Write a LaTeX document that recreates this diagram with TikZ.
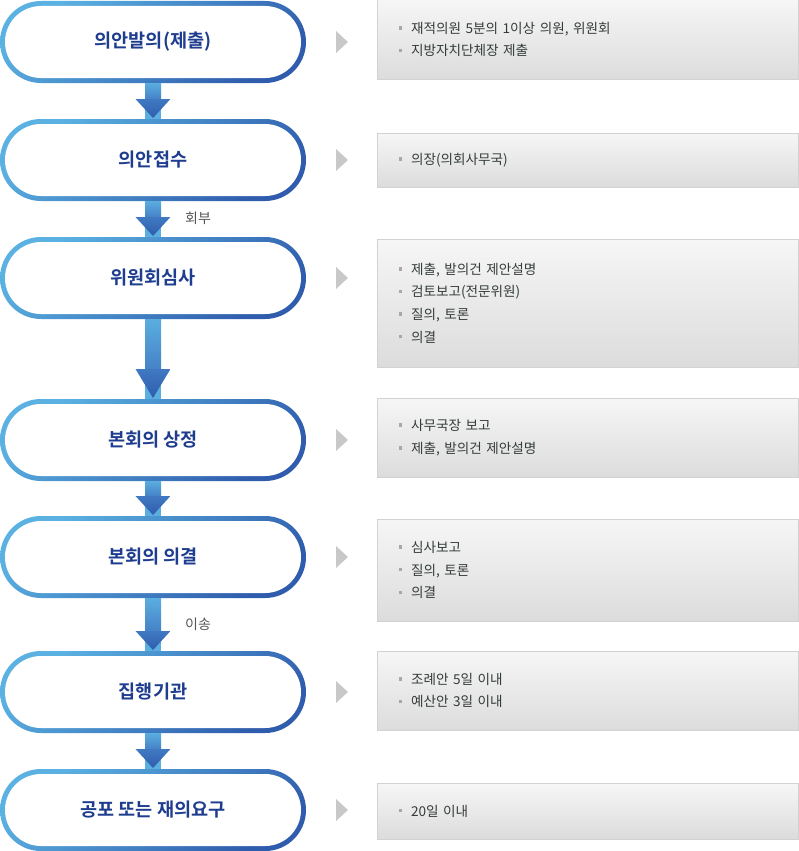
\documentclass[tikz,border=0pt]{standalone}
\usepackage{fontspec}
\setmainfont{Noto Sans CJK KR}[BoldFont={Noto Sans CJK KR Bold}]
\usepackage{xcolor}
\usepackage{tikz}
\usetikzlibrary{calc}
\setlength{\parindent}{0pt}
\definecolor{pilllight}{HTML}{5BB2E2}
\definecolor{pilldark}{HTML}{2F5CAC}
\definecolor{pilltext}{HTML}{1F3D8F}
\definecolor{arrowlight}{HTML}{5AAEE0}
\definecolor{arrowmid}{HTML}{4582C7}
\definecolor{headtop}{HTML}{4079C2}
\definecolor{headbot}{HTML}{2F5DAD}
\definecolor{pointgray}{HTML}{C8C8C8}
\definecolor{boxtop}{HTML}{F6F6F6}
\definecolor{boxbot}{HTML}{DCDCDC}
\definecolor{boxline}{HTML}{D2D2D2}
\definecolor{bulletgray}{HTML}{A8A8A8}
\definecolor{itemtext}{HTML}{343C3A}
\definecolor{labelgray}{HTML}{555555}
\tikzset{
  pill/.style={rectangle, rounded corners=41pt, minimum width=306pt, minimum height=82pt,
    inner sep=0pt, outer sep=0pt, top color=pilllight, bottom color=pilldark, shading angle=40,
    text=pilltext, font=\fontsize{18.6}{21}\selectfont\bfseries,
    path picture={\fill[white, rounded corners=36pt]
      ([shift={(5pt,5pt)}]path picture bounding box.south west) rectangle
      ([shift={(-5pt,-5pt)}]path picture bounding box.north east);}},
  infobox/.style={rectangle, anchor=west, draw=boxline, line width=1pt, top color=boxtop, bottom color=boxbot,
    inner xsep=21.5pt, inner ysep=0pt, text width=378pt, align=left, text=itemtext,
    font=\fontsize{13.6}{22.6}\selectfont},
  shaft/.style={top color=arrowlight, bottom color=arrowmid},
  head/.style={top color=headtop, bottom color=headbot},
  edgelabel/.style={text=labelgray, font=\fontsize{14}{16}\selectfont, inner sep=0pt}
}
\newcommand{\itm}{\textcolor{bulletgray}{\rule[3.6pt]{3.5pt}{3.5pt}}\hspace{9pt}}

\begin{document}
\begin{tikzpicture}[x=1pt, y=-1pt]
  \useasboundingbox (0,0) rectangle (798,851);

  % steps
  \node[pill] (p1) at (153, 42) {의안발의(제출)};
  \node[pill] (p2) at (153, 160) {의안접수};
  \node[pill] (p3) at (153, 278) {위원회심사};
  \node[pill] (p4) at (153, 440) {본회의 상정};
  \node[pill] (p5) at (153, 557) {본회의 의결};
  \node[pill] (p6) at (153, 692) {집행기관};
  \node[pill] (p7) at (153, 810) {공포 또는 재의요구};

  % details
  \node[infobox, minimum height=79pt] (b1) at (376.5, 39.5) {\itm 재적의원 5분의 1이상 의원, 위원회\\ \itm 지방자치단체장 제출};
  \node[infobox, minimum height=54pt] (b2) at (376.5, 160) {\itm 의장(의회사무국)};
  \node[infobox, minimum height=128pt] (b3) at (376.5, 303) {\itm 제출, 발의건 제안설명\\ \itm 검토보고(전문위원)\\ \itm 질의, 토론\\ \itm 의결};
  \node[infobox, minimum height=79pt] (b4) at (376.5, 437.5) {\itm 사무국장 보고\\ \itm 제출, 발의건 제안설명};
  \node[infobox, minimum height=102pt] (b5) at (376.5, 570) {\itm 심사보고\\ \itm 질의, 토론\\ \itm 의결};
  \node[infobox, minimum height=79pt] (b6) at (376.5, 690.5) {\itm 조례안 5일 이내\\ \itm 예산안 3일 이내};
  \node[infobox, minimum height=56pt] (b7) at (376.5, 811) {\itm 20일 이내};

  \node[edgelabel] (l1) at (198, 218) {회부};
  \node[edgelabel] (l2) at (198, 624) {이송};

  \foreach \from/\to/\h in {
    p1/p2/20, p2/p3/20, p3/p4/30,
    p4/p5/20, p5/p6/20, p6/p7/20}
  {
    \shade[shaft] ($(\from.south)+(-8,0)$) rectangle ($(\to.north)+(8,-\h)$);
    \fill[arrowlight] ($(\to.north)+(-8,-\h)$) rectangle ($(\to.north)+(8,0)$);
    \shade[head] ($(\to.north)+(-17.5,-\h)$) -- ($(\to.north)+(17.5,-\h)$) -- ($(\to.north)+(0,-1)$) -- cycle;
  }

  \foreach \n in {p1,p2,p3,p4,p5,p6,p7}
    \fill[pointgray] ($(\n.east)+(30,-11)$) -- ($(\n.east)+(42,0)$) -- ($(\n.east)+(30,11)$) -- cycle;
\end{tikzpicture}
\end{document}
